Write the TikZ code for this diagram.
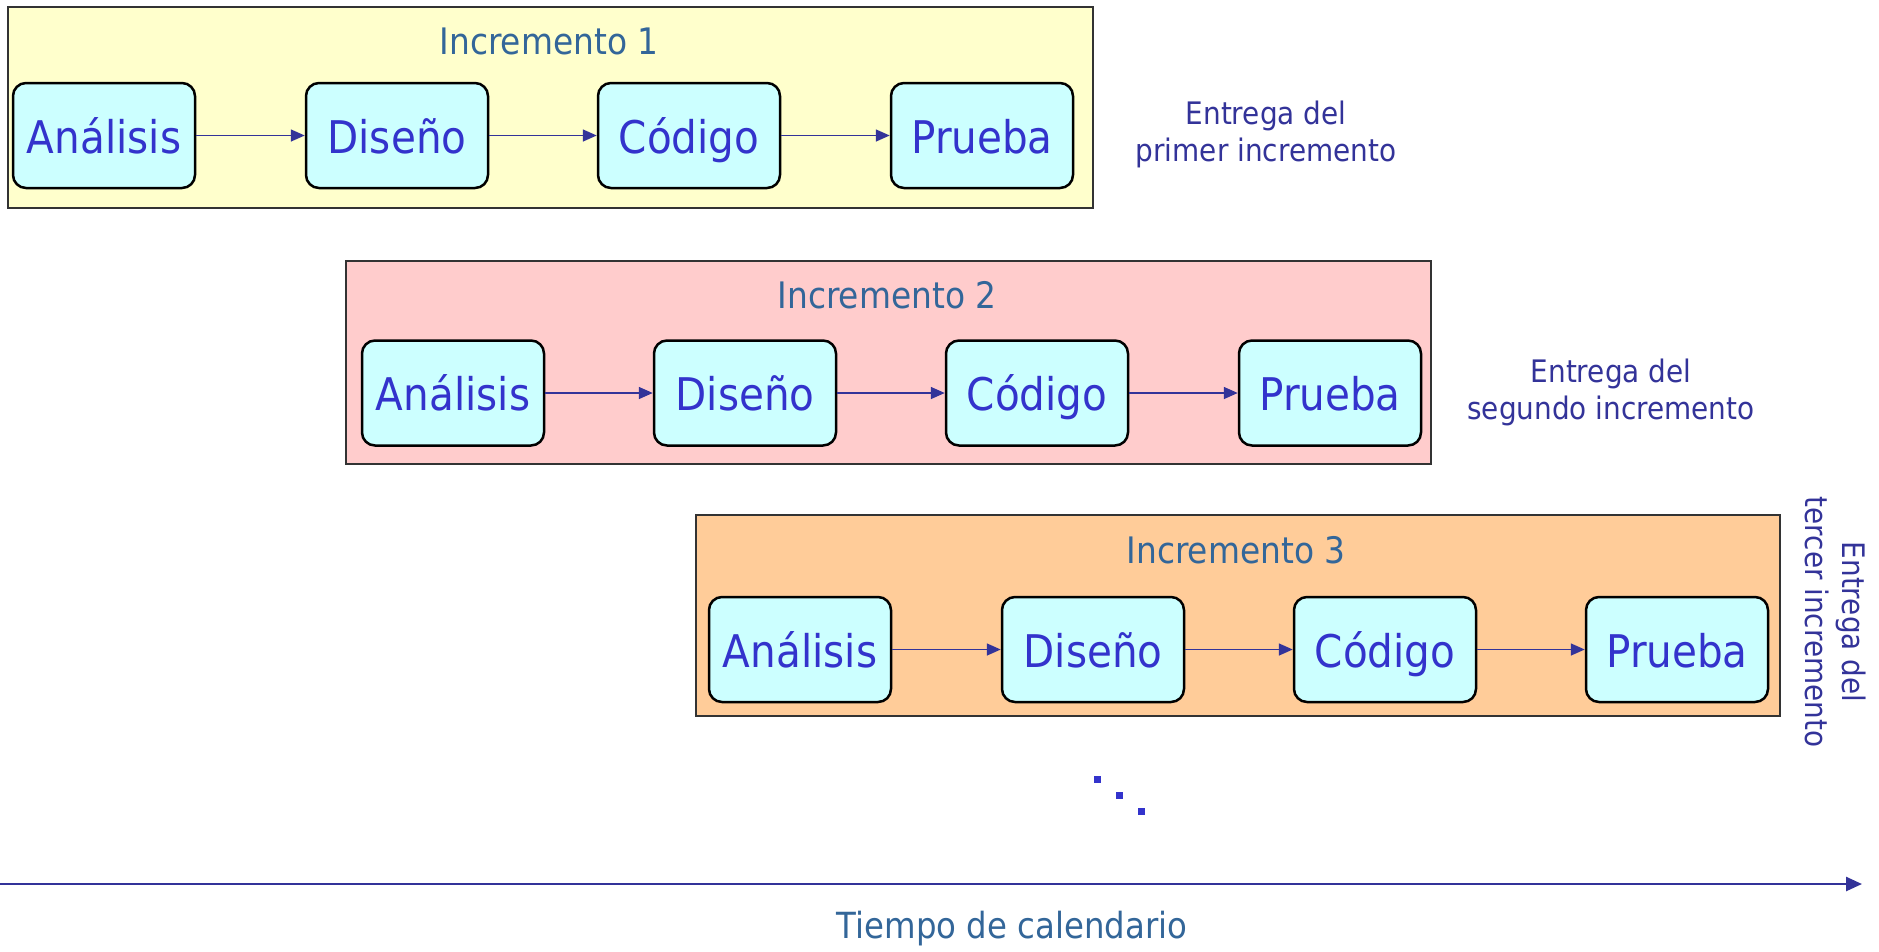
\documentclass[tikz,border=0pt]{standalone}
\usepackage{fontspec}
\setmainfont[FakeStretch=0.9]{DejaVu Sans}
\usepackage{tikz}
\usetikzlibrary{arrows.meta}
\usetikzlibrary{positioning}
\definecolor{incyellow}{HTML}{FFFFCC}
\definecolor{incpink}{HTML}{FFCCCC}
\definecolor{incorange}{HTML}{FFCC99}
\definecolor{taskcyan}{HTML}{CCFFFF}
\definecolor{titleblue}{HTML}{336699}
\definecolor{taskblue}{HTML}{3333CC}
\definecolor{darkblue}{HTML}{333399}
\tikzset{increment/.style={draw=black!80, line width=1.5pt, minimum width=1085pt, minimum height=201pt, inner sep=0pt}}
\tikzset{task/.style={draw=black, line width=2.5pt, rounded corners=13pt, fill=taskcyan, minimum width=182pt, minimum height=105pt, inner sep=0pt, text height=35pt, text depth=0pt, text=taskblue, font=\fontsize{45}{50}\selectfont}}
\tikzset{flow/.style={draw=darkblue, line width=1.6pt, -{Triangle[length=14pt,width=12pt]}}}

\begin{document}
\begin{tikzpicture}[x=1pt, y=-1pt]
	% Default action for titles and deliveries
	\tikzstyle{title}=[text=titleblue, inner sep=0pt, font=\fontsize{36.5}{40}\selectfont];
	\tikzstyle{delivery}=[text=darkblue, inner sep=0pt, align=center, font=\fontsize{31}{37}\selectfont];

	\useasboundingbox (0,0) rectangle (1879,951);

	% FIRST
	\node[increment, fill=incyellow] (inc1) at (550.5,107.5) {};
	\node[title] (title1) at (549,41) {Incremento 1};
	\node[task] (ana1) at (104,135.5) {Análisis};	\node[task] (dis1) at (397,135.5) {Diseño};	\node[task] (cod1) at (689,135.5) {Código};	\node[task] (pru1) at (982,135.5) {Prueba};
	\node[delivery] (ent1) at (1266,134.5) {Entrega del\\primer incremento};

	% SECOND
	\node[increment, fill=incpink, minimum height=203pt] (inc2) at (888.5,362.5) {};
	\node[title] (title2) at (887,295) {Incremento 2};
	\node[task] (ana2) at (453,393) {Análisis};	\node[task] (dis2) at (745,393) {Diseño};	\node[task] (cod2) at (1037,393) {Código};	\node[task] (pru2) at (1330,393) {Prueba};
	\node[delivery] (ent2) at (1611,392.5) {Entrega del\\segundo incremento};

	% THIRD
	\node[increment, fill=incorange, minimum width=1084pt] (inc3) at (1238,615.5) {};
	\node[title] (title3) at (1236,550) {Incremento 3};
	\node[task] (ana3) at (800,649.5) {Análisis};	\node[task] (dis3) at (1093,649.5) {Diseño};	\node[task] (cod3) at (1385,649.5) {Código};	\node[task] (pru3) at (1677,649.5) {Prueba};
	\node[delivery, rotate=-90] (ent3) at (1836,622) {Entrega del\\tercer incremento};

	% Flows
	\draw[flow] (ana1) -- (dis1);
	\draw[flow] (dis1) -- (cod1);
	\draw[flow] (cod1) -- (pru1);

	\draw[flow] (ana2) -- (dis2);
	\draw[flow] (dis2) -- (cod2);
	\draw[flow] (cod2) -- (pru2);

	\draw[flow] (ana3) -- (dis3);
	\draw[flow] (dis3) -- (cod3);
	\draw[flow] (cod3) -- (pru3);

	% more increments
	\fill[taskblue] (1093.5,775.5) rectangle ++(7,7);
	\fill[taskblue] (1115.5,791.5) rectangle ++(7,7);
	\fill[taskblue] (1137.5,807.5) rectangle ++(7,7);

	% Time axis
	\coordinate (axis start) at (0,884);	\coordinate (axis end) at (1862,884);
	\draw[darkblue, line width=2.5pt, -{Triangle[length=16pt,width=14pt]}] (axis start) -- (axis end);
	\node[title, font=\fontsize{36}{40}\selectfont] (time) at (1012,929) {Tiempo de calendario};
\end{tikzpicture}
\end{document}
